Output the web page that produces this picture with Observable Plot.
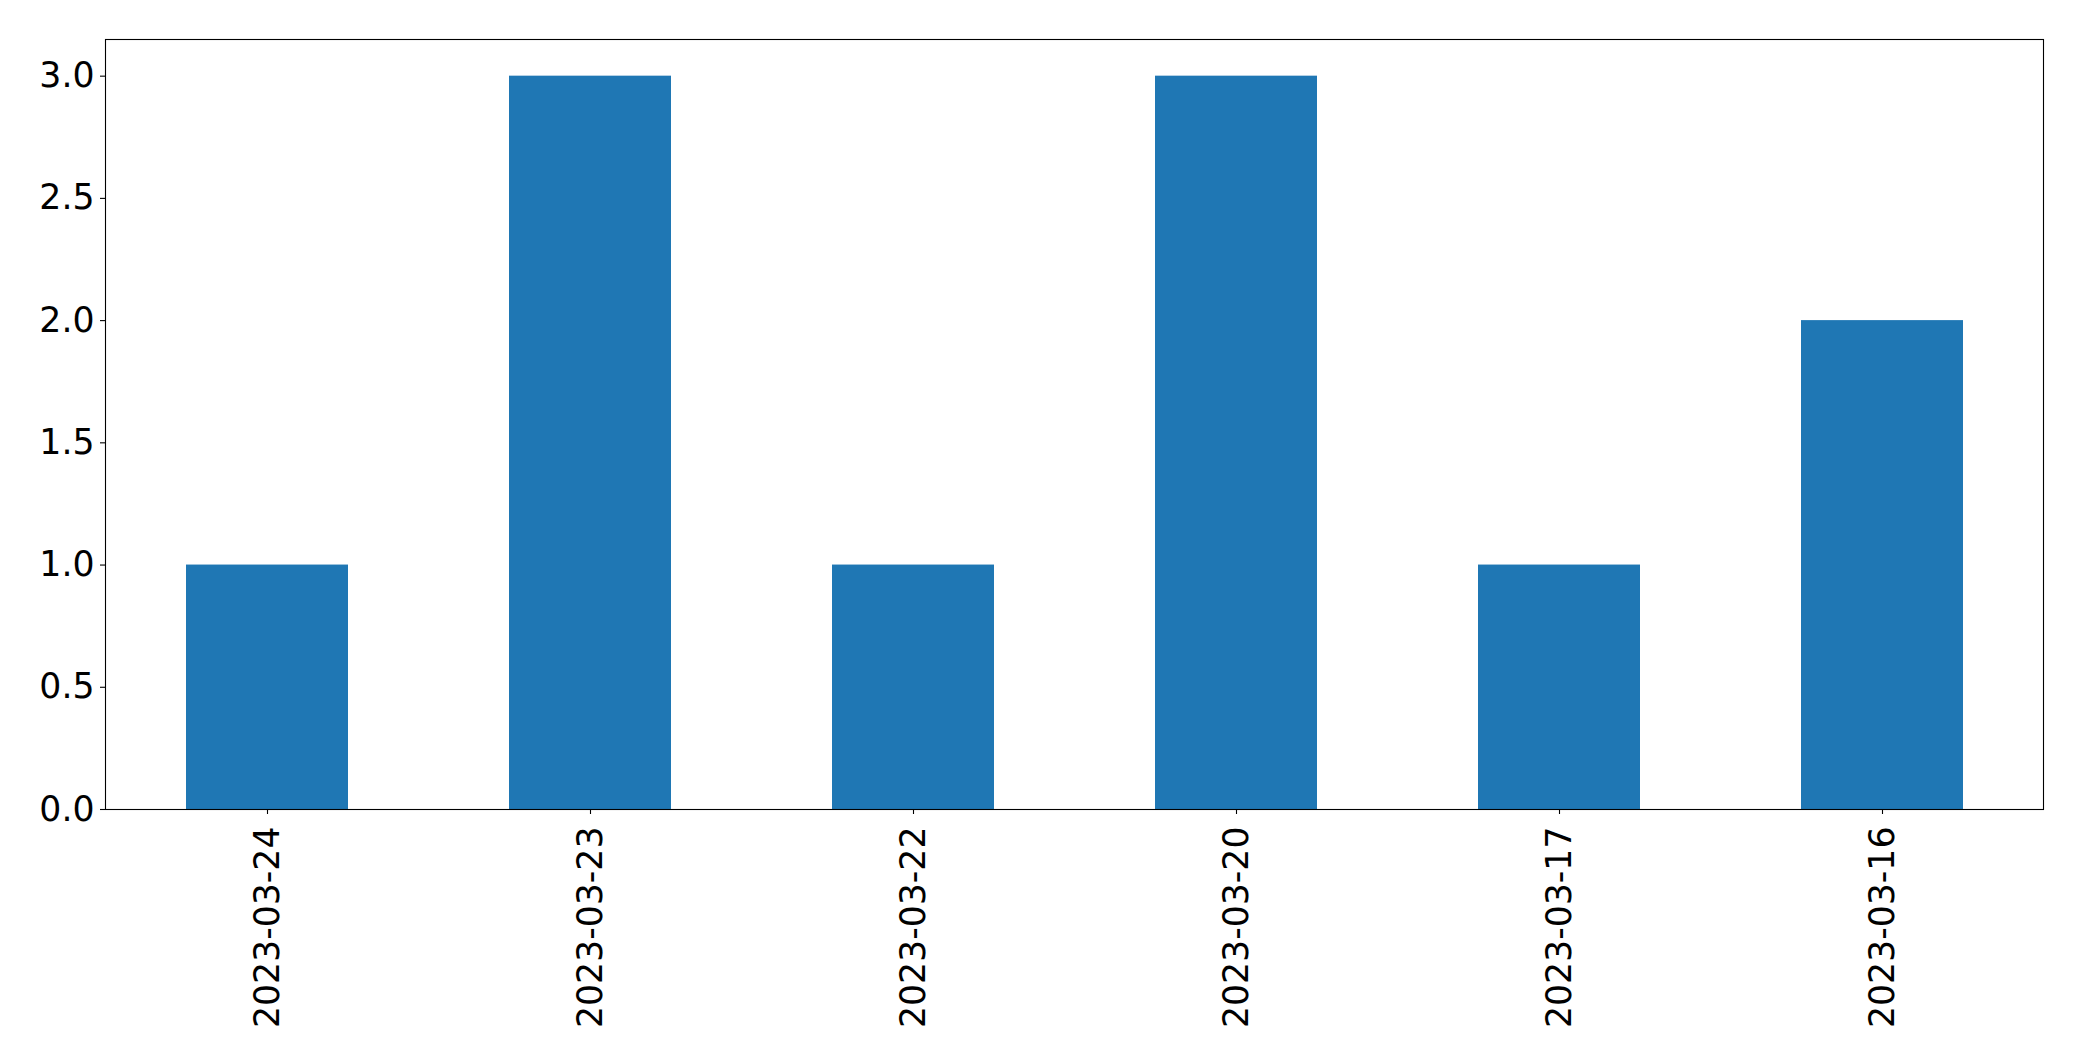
<!DOCTYPE html>
<html>
<head>
<meta charset="utf-8">
<script src="https://cdn.jsdelivr.net/npm/d3@7"></script>
<script src="https://cdn.jsdelivr.net/npm/@observablehq/plot@0.6"></script>
<style>
  html, body { margin: 0; padding: 0; background: #fff; }
</style>
</head>
<body>
<div id="chart"></div>
<script>
const dates = ["2023-03-24", "2023-03-23", "2023-03-22", "2023-03-20", "2023-03-17", "2023-03-16"];
const counts = [1, 3, 1, 3, 1, 2];
const yTicks = [0, 0.5, 1.0, 1.5, 2.0, 2.5, 3.0];

const data = dates.map((d, i) => ({date: d, count: counts[i]}));

const chart = Plot.plot({
  width: 2082,
  height: 1061,
  marginLeft: 105,
  marginRight: 39,
  marginTop: 39,
  marginBottom: 252,
  style: {fontFamily: "DejaVu Sans", fontSize: "34.7px", color: "#000", background: "#fff"},
  x: {domain: dates, paddingInner: 0.5, paddingOuter: 0.25, label: null},
  y: {domain: [0, 3.15], label: null},
  marks: [
    Plot.barY(data, {x: "date", y: "count", fill: "#1f77b4"}),
    Plot.frame({stroke: "#000", strokeWidth: 1.1}),
    Plot.axisY({ticks: yTicks, tickFormat: d3.format(".1f"), tickSize: 5, tickPadding: 6, fontSize: 34.7, stroke: "#000", strokeWidth: 1.1}),
    Plot.axisX({tickSize: 5, tickPadding: 12, tickRotate: -90, fontSize: 34.7, stroke: "#000", strokeWidth: 1.1})
  ]
});
document.getElementById("chart").appendChild(chart);
</script>
</body>
</html>
